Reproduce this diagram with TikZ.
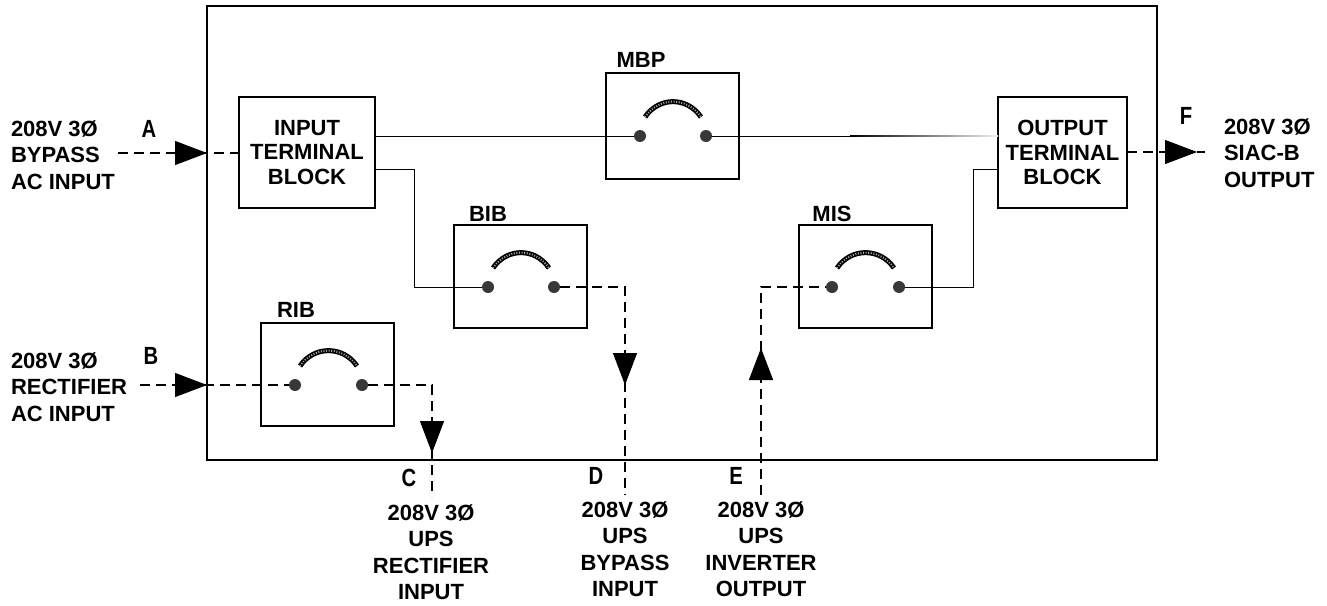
\documentclass[tikz,border=0pt]{standalone}
\usepackage{fontspec}
\setmainfont{Liberation Sans}
\usetikzlibrary{arrows.meta}
\tikzset{
  x=0.5pt,y=-0.5pt,
  every node/.style={inner sep=0pt,outer sep=0pt},
  outerbox/.style={draw=black,line width=1pt},
  block/.style={draw=black,line width=1pt,minimum width=68pt,minimum height=55.5pt,align=center,font=\fontsize{11}{12.25}\selectfont\bfseries},
  switchbox/.style={draw=black,line width=1pt,minimum width=66.5pt,minimum height=51.5pt},
  dot/.style={circle,fill=black!78,minimum size=6pt},
  lbl/.style={font=\fontsize{11}{13.25}\selectfont\bfseries,align=left},
  clbl/.style={font=\fontsize{11}{13.25}\selectfont\bfseries,align=center},
  tag/.style={font=\fontsize{11}{13}\selectfont\bfseries},
  letter/.style={font=\fontsize{11.5}{13}\selectfont\bfseries},
  wire/.style={line width=0.5pt,black},
  dashwire/.style={line width=0.75pt,black,dash pattern=on 5pt off 3pt},
  head/.style={line width=0.6pt,-{Triangle[length=16pt,width=12pt]}},
  contact/.style={line width=2.5pt,black,line cap=butt,postaction={draw,black!35,line width=1pt,dash pattern=on 0.5pt off 0.8pt}},
}
\newcommand{\narrow}[1]{\scalebox{0.88}[1.08]{#1}}
\newcommand{\contactarc}[2]{%
  \draw[contact] ([shift={(5,-19)}]#1.center) .. controls ([shift={(19,-39.5)}]#1.center) and ([shift={(-19,-39.5)}]#2.center) .. ([shift={(-5,-19)}]#2.center);}
\begin{document}
\begin{tikzpicture}
\useasboundingbox (0,0) rectangle (1327,605);
\node[outerbox,minimum width=475pt,minimum height=227pt] (frame) at (682,233) {};
\node[block] (input) at (307,152.5) {INPUT\\TERMINAL\\BLOCK};
\node[block,minimum width=64.5pt] (output) at (1062.5,152.5) {OUTPUT\\TERMINAL\\BLOCK};
\node[switchbox,minimum height=53pt] (mbp) at (672.5,126) {};
\node[switchbox] (bib) at (520.5,276) {};
\node[switchbox] (mis) at (865,276) {};
\node[switchbox] (rib) at (327.5,374) {};
\node[tag] (tmbp) at (641,60) {MBP};
\node[tag] (tbib) at (488,214) {BIB};
\node[tag] (tmis) at (832,214) {MIS};
\node[tag] (trib) at (296,310) {RIB};
\foreach \n/\xa/\xb/\yy in {mbp/640/706/136,bib/488/554/287,mis/832/899/287,rib/295/362/385}{
  \node[dot] (\n L) at (\xa,\yy) {};
  \node[dot] (\n R) at (\xb,\yy) {};
  \contactarc{\n L}{\n R}
}
\node[lbl,anchor=west] (la) at (11,155) {208V 3Ø\\BYPASS\\AC INPUT};
\node[lbl,anchor=west] (lb) at (11,387) {208V 3Ø\\RECTIFIER\\AC INPUT};
\node[clbl] (lc) at (431,552) {208V 3Ø\\UPS\\RECTIFIER\\INPUT};
\node[clbl] (ld) at (625,549) {208V 3Ø\\UPS\\BYPASS\\INPUT};
\node[clbl] (le) at (761,549) {208V 3Ø\\UPS\\INVERTER\\OUTPUT};
\node[lbl,anchor=west] (lf) at (1224,153) {208V 3Ø\\SIAC-B\\OUTPUT};
\node[letter] (A) at (149,129) {\narrow{A}};
\node[letter] (B) at (151,356) {\narrow{B}};
\node[letter] (C) at (409,478) {\narrow{C}};
\node[letter] (D) at (596,476) {\narrow{D}};
\node[letter] (E) at (736,476) {\narrow{E}};
\node[letter] (F) at (1186,116) {\narrow{F}};
% free ends and junctions
\coordinate (a0) at (118,153);
\coordinate (b0) at (140,385);
\coordinate (ah) at (175,153);
\coordinate (at) at (207,153);
\coordinate (bh) at (175,385);
\coordinate (bt) at (207,385);
\coordinate (c1) at (432,385);
\coordinate (c2) at (432,497);
\coordinate (ch) at (432,420);
\coordinate (ct) at (432,453);
\coordinate (d1) at (625,287);
\coordinate (d2) at (625,495);
\coordinate (dh) at (625,352);
\coordinate (dt) at (625,385);
\coordinate (e1) at (761,287);
\coordinate (e2) at (761,495);
\coordinate (eh) at (761,380);
\coordinate (et) at (761,348);
\coordinate (fs) at (1127,152);
\coordinate (fh) at (1165,152);
\coordinate (ft) at (1197,152);
\coordinate (f2) at (1205,152);
\coordinate (inlow) at (375,169);
\coordinate (j1) at (414,169);
\coordinate (j2) at (414,287);
\coordinate (outlow) at (998,169);
\coordinate (j3) at (973,169);
\coordinate (j4) at (973,287);
\coordinate (fadeA) at (850,135.5);
\coordinate (fadeB) at (850,136);
% solid wiring
\draw[wire] (input.east |- mbpL) -- (mbpL);
\draw[wire] (mbpR) -- (fadeB);
\shade[left color=black,right color=black!6] (fadeA) rectangle ([yshift=-0.25pt]output.west |- mbpR);
\draw[wire] (inlow) -- (j1) -- (j2) -- (bibL);
\draw[wire] (misR) -- (j4) -- (j3) -- (outlow);
% dashed wiring
\draw[dashwire] (a0) -- (input.west |- a0);
\draw[dashwire] (b0) -- (ribL);
\draw[dashwire] (ribR) -- (c1) -- (c2);
\draw[dashwire] (bibR) -- (d1) -- (d2);
\draw[dashwire] (e2) -- (e1) -- (misL);
\draw[dashwire] (fs) -- (fh);
\draw[line width=0.75pt] (ft) -- (f2);
% arrowheads
\draw[head] (ah) -- (at);
\draw[head] (bh) -- (bt);
\draw[head] (ch) -- (ct);
\draw[head] (dh) -- (dt);
\draw[head] (eh) -- (et);
\draw[head] (fh) -- (ft);
\end{tikzpicture}
\end{document}
